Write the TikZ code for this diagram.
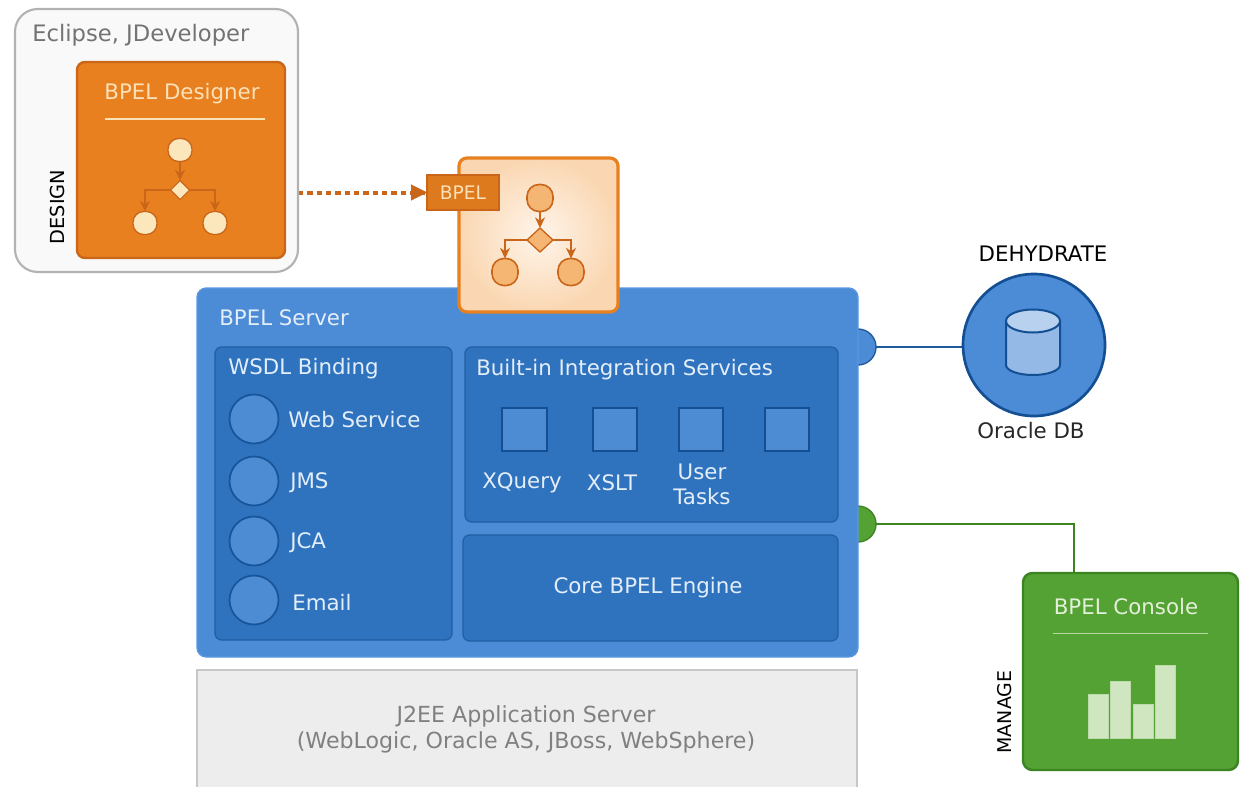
\documentclass[tikz,border=0pt]{standalone}
\usepackage{fontspec}
\setmainfont{DejaVu Sans}
\usetikzlibrary{shapes.geometric,arrows.meta,backgrounds}
\definecolor{orangeF}{HTML}{E8801F}
\definecolor{orangeD}{HTML}{C9661A}
\definecolor{orangeL}{HTML}{FBE0B8}
\definecolor{orangeM}{HTML}{F6B673}
\definecolor{creamF}{HTML}{FCE6BC}
\definecolor{blueS}{HTML}{4C8BD6}
\definecolor{blueL}{HTML}{5B97DE}
\definecolor{blueP}{HTML}{2F73BF}
\definecolor{blueD}{HTML}{1F5A9C}
\definecolor{blueN}{HTML}{134F92}
\definecolor{blueI}{HTML}{4D8BD2}
\definecolor{txtL}{HTML}{E4EEF9}
\definecolor{greenF}{HTML}{55A234}
\definecolor{greenD}{HTML}{3C8322}
\definecolor{greenL}{HTML}{CFE6C0}
\tikzset{
  x=0.75pt,y=-0.75pt,
  sz/.style 2 args={minimum width=#1*0.75pt,minimum height=#2*0.75pt,inner sep=0pt,outer sep=0pt},
  rad/.style={circle,minimum size=#1*1.5pt,inner sep=0pt,outer sep=0pt},
  lbl/.style={inner sep=0pt,yshift=-1pt,font=\fontsize{#1}{#1}\selectfont},
  lbl/.default=16,
  panel/.style={fill=blueP,draw=blueD!80!blueP,line width=1pt,rounded corners=5pt,anchor=north west},
  svc/.style={fill=blueI,draw=blueN,line width=1.5pt,anchor=center},
  ring/.style={fill=blueI,draw=blueN!85!blueP,line width=1.3pt},
  wl/.style={lbl,text=txtL,anchor=west},
  ctext/.style={lbl,text=txtL,anchor=center},
  flowline/.style={draw=#1,line width=1.4pt,-{Stealth[length=8pt,width=7.5pt]}},
  bar/.style={fill=greenL,draw=greenL!85!greenF,line width=0.4pt,anchor=south west},
  dnode/.style={sz={24}{23},rounded corners=8pt,fill=creamF,draw=orangeD,line width=1pt},
  pnode/.style={sz={26}{27},rounded corners=9pt,fill=orangeM,draw=orangeD,line width=1.2pt},
  ddia/.style={diamond,sz={19}{19},fill=creamF,draw=orangeD,line width=0.8pt},
  pdia/.style={diamond,sz={26}{24},fill=orangeM,draw=orangeD,line width=1pt}
}
% #1 prefix, #2 node style, #3 diamond style, #4 line colour, #5 top x, #6 top y, #7 diamond y, #8 left x, #9 right x; lower y from \flowlow
\newcommand{\flowicon}[9]{%
  \node[#2] (#1top) at (#5,#6) {};
  \node[#3] (#1dia) at (#5,#7) {};
  \node[#2] (#1left) at (#8,\flowlow) {};
  \node[#2] (#1right) at (#9,\flowlow) {};
  \draw[flowline=#4] (#1top) -- (#1dia);
  \draw[flowline=#4] (#1dia.west) -| (#1left.north);
  \draw[flowline=#4] (#1dia.east) -| (#1right.north);
}
\begin{document}
\begin{tikzpicture}
\useasboundingbox (0,0) rectangle (1241,786);

% Design tool
\node[sz={283}{263},fill=gray!5,draw=black!30,line width=1.6pt,rounded corners=17pt,anchor=north west] (eclipse) at (15,9) {};
\node[lbl=17,text=black!55,anchor=west] (eclipseT) at (32,34) {Eclipse, JDeveloper};
\node[sz={208}{196},fill=orangeF,draw=orangeD,line width=1.8pt,rounded corners=6pt,anchor=north west] (designer) at (77,62) {};
\node[lbl,text=orangeL,anchor=center] (designerT) at (182,92) {BPEL Designer};
\coordinate (dl) at (105,119); \coordinate (dr) at (265,119);
\draw[orangeL,line width=0.8pt] (dl) -- (dr);
\def\flowlow{223}
\flowicon{d}{dnode}{ddia}{orangeD}{180}{150}{190}{145}{215}
\node[inner sep=0pt,font=\fontsize{14.5}{14.5}\selectfont,rotate=90,anchor=center] (designL) at (57,207) {DESIGN};

% Blue and green ports lie under the server
\node[rad=18,fill=blueS,draw=blueD,line width=1pt] (bport) at (858,347) {};
\node[rad=18,fill=greenF,draw=greenD,line width=1pt] (gport) at (858,524) {};

% BPEL server
\node[sz={661}{369},fill=blueS,draw=blueL,line width=1pt,rounded corners=7pt,anchor=north west] (server) at (197,288) {};
\node[wl] (serverT) at (219,316) {BPEL Server};

% WSDL
\node[panel,sz={237}{293}] (wsdl) at (215,347) {};
\node[wl] (wsdlT) at (228,367) {WSDL Binding};
\node[ring,rad=24.5] (c1) at (254,419) {};
\node[ring,rad=24.5] (c2) at (254,481) {};
\node[ring,rad=24.5] (c3) at (254,541) {};
\node[ring,rad=24.5] (c4) at (254,600) {};
\node[wl] (c1T) at (288,418) {Web Service};
\node[wl] (c2T) at (290,481) {JMS};
\node[wl] (c3T) at (290,541) {JCA};
\node[wl] (c4T) at (292,601) {Email};

% Integration services
\node[panel,sz={373}{175}] (integ) at (465,347) {};
\node[wl] (integT) at (476,368) {Built-in Integration Services};
\node[svc,sz={45}{43}] (s1) at (524,429) {};
\node[svc,sz={44}{43}] (s2) at (615,429) {};
\node[svc,sz={44}{43}] (s3) at (701,429) {};
\node[svc,sz={44}{43}] (s4) at (787,429) {};
\node[ctext] (s1T) at (522,481) {XQuery};
\node[ctext] (s2T) at (612,481) {XSLT};
\node[ctext,align=center,font=\fontsize{16}{19}\selectfont] (s3T) at (702,483) {User\\Tasks};

% Core
\node[panel,sz={375}{106}] (core) at (463,535) {};
\node[ctext] (coreT) at (648,586) {Core BPEL Engine};

% Deployed process card
\node[sz={159}{154},draw=orangeF,line width=2.4pt,rounded corners=6pt,inner color=orange!8!white,outer color=orangeM!55!white,anchor=north west] (card) at (459,158) {};
\def\flowlow{272}
\flowicon{p}{pnode}{pdia}{orangeD}{540}{198}{240}{505}{571}
\node[sz={72}{35},fill=orangeF!95!black,draw=orangeD,line width=1.2pt,anchor=north west] (tag) at (427,175) {};
\node[inner sep=0pt,font=\fontsize{14}{14}\selectfont,text=orangeL,anchor=center] (tagT) at (tag.center) {BPEL};

% Dehydration store
\node[lbl,anchor=center] (dehy) at (1043,252) {DEHYDRATE};
\node[rad=71,fill=blueS,draw=blueN,line width=2pt] (db) at (1034,345) {};
\node[lbl,text=black!85,anchor=center] (dbT) at (1031,429) {Oracle DB};
\coordinate (cylL) at (1006,321);
\fill[blueS!60!white,draw=blueN,line width=1.5pt] (cylL) -- ++(0,44) arc[x radius=20.25pt,y radius=7.5pt,start angle=180,end angle=360] -- ++(0,-44) -- cycle;
\node[ellipse,sz={54}{23},fill=blueS!40!white,draw=blueN,line width=1.5pt] (cylT) at (1033,321) {};

% Console
\node[sz={215}{197},fill=greenF,draw=greenD,line width=1.8pt,rounded corners=7pt,anchor=north west] (console) at (1023,573) {};
\node[lbl,text=greenL!60!white,anchor=center] (consoleT) at (1126,605) {BPEL Console};
\coordinate (cl) at (1053,633); \coordinate (cr) at (1208,633);
\draw[greenL!80!greenF,line width=0.6pt] (cl) -- (cr);
\node[bar,sz={20}{44}] (b1) at (1088,738) {};
\node[bar,sz={20}{57}] (b2) at (1110,738) {};
\node[bar,sz={20}{34}] (b3) at (1133,738) {};
\node[bar,sz={20}{73}] (b4) at (1155,738) {};
\node[inner sep=0pt,font=\fontsize{14.2}{14.2}\selectfont,rotate=90,anchor=center] (manageL) at (1005,712) {MANAGE};

% J2EE
\node[sz={660}{118},fill=black!7,draw=black!22,line width=1pt,anchor=north west] (j2ee) at (197,670) {};
\node[inner sep=0pt,text=black!50,align=center,anchor=center,font=\fontsize{16.6}{19.5}\selectfont] (j2eeT) at (526,729) {J2EE Application Server\\(WebLogic, Oracle AS, JBoss, WebSphere)};

% Connectors
\begin{scope}[on background layer]
\draw[orangeD,line width=3pt,dash pattern=on 4pt off 3pt] (eclipse.east |- tag.west) -- (tag.west);
\draw[blueD,line width=2.2pt] (bport.east) -- (bport.east -| db.west);
\draw[greenD,line width=2.2pt] (gport.east) -| (console.north -| 1074,0);
\end{scope}
\draw[-{Triangle[length=12pt,width=12pt]},orangeD,line width=0.1pt] ([xshift=-13pt]tag.west) -- (tag.west);
\end{tikzpicture}
\end{document}
